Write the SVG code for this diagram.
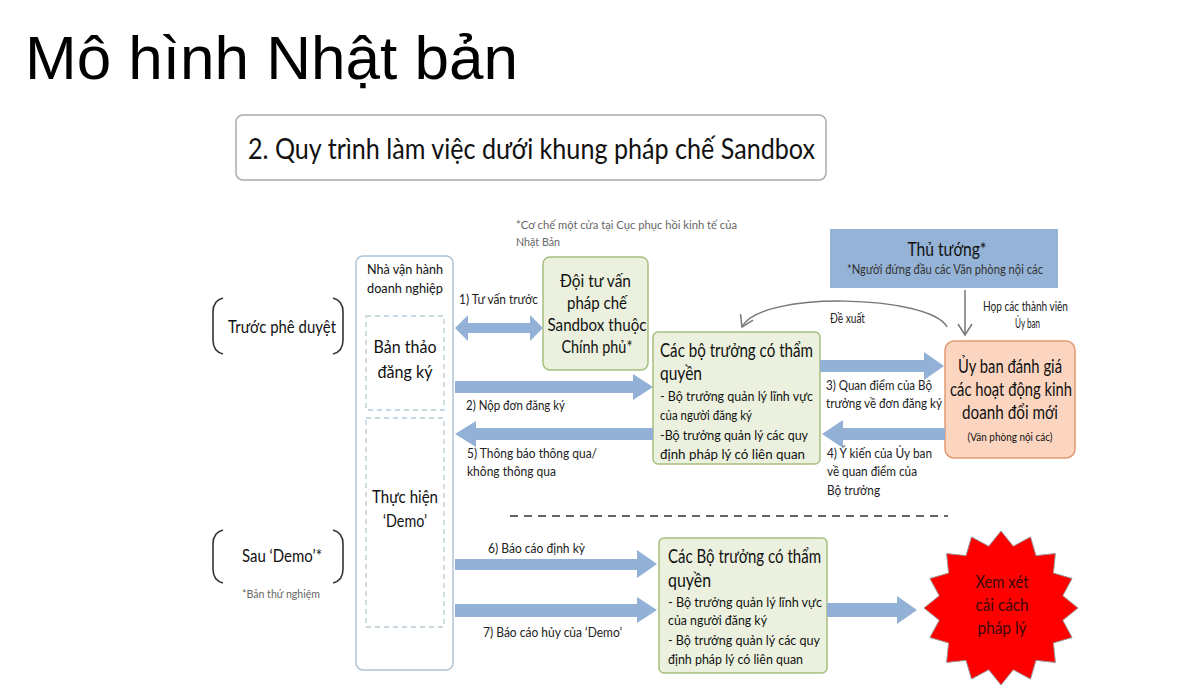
<svg xmlns="http://www.w3.org/2000/svg" width="1200" height="686" viewBox="0 0 1200 686">
<defs>
<style>
.t{font-family:Lato,"Open Sans","Liberation Sans",sans-serif;fill:#111}
.lb{font-family:Lato,"Open Sans","Liberation Sans",sans-serif;fill:#222;font-size:12.5px}
.nt{font-family:Lato,"Open Sans","Liberation Sans",sans-serif;fill:#666;font-size:12px}
.m{text-anchor:middle}
.green{fill:#ebf1de;stroke:#a6bf7d;stroke-width:1.5}
.dash{fill:none;stroke:#b7cbd8;stroke-width:1.3;stroke-dasharray:5 4}
.blk{fill:#93b1d7}
.br{fill:none;stroke:#333;stroke-width:1.6}
</style>
<marker id="v" markerWidth="16" markerHeight="16" refX="12" refY="8" orient="auto" markerUnits="userSpaceOnUse">
<path d="M1,1 L12,8 L1,15" fill="none" stroke="#777" stroke-width="1.5"/>
</marker>
</defs>
<rect width="1200" height="686" fill="#fff"/>
<text x="25" y="79" font-family="'Liberation Sans',Arial,sans-serif" font-size="62" fill="#000">Mô hình Nhật bản</text>

<g id="subtitle">
<rect x="236" y="115" width="590" height="65" rx="7" fill="#fff" stroke="#aaa" stroke-width="1.5"/>
<text class="t" x="248" y="159" font-size="28" textLength="567" lengthAdjust="spacingAndGlyphs">2. Quy trình làm việc dưới khung pháp chế Sandbox</text>
</g>

<g id="phase-before">
<path class="br" d="M223,298 C215,300 213,305 213,312 L213,340 C213,347 215,352 223,354"/>
<path class="br" d="M333,298 C341,300 343,305 343,312 L343,340 C343,347 341,352 333,354"/>
<text class="t m" x="282" y="333" font-size="17" textLength="108" lengthAdjust="spacingAndGlyphs">Trước phê duyệt</text>
</g>
<g id="phase-after">
<path class="br" d="M223,530 C215,532 213,537 213,544 L213,569 C213,576 215,581 223,583"/>
<path class="br" d="M333,530 C341,532 343,537 343,544 L343,569 C343,576 341,581 333,583"/>
<text class="t m" x="282" y="562" font-size="17" textLength="80" lengthAdjust="spacingAndGlyphs">Sau ‘Demo’*</text>
<text class="nt m" x="281" y="598" textLength="78" lengthAdjust="spacingAndGlyphs">*Bản thứ nghiệm</text>
</g>

<g id="operator">
<rect x="356" y="256" width="97" height="414" rx="7" fill="#fff" stroke="#aec3d3" stroke-width="1.5"/>
<text class="t m" x="405" y="274" font-size="13.5" textLength="76" lengthAdjust="spacingAndGlyphs">Nhà vận hành</text>
<text class="t m" x="405" y="293" font-size="13.5" textLength="76" lengthAdjust="spacingAndGlyphs">doanh nghiệp</text>
</g>
<g id="draft">
<rect class="dash" x="366" y="316" width="78" height="94"/>
<text class="t m" x="405" y="353" font-size="17.5" textLength="63" lengthAdjust="spacingAndGlyphs">Bản thảo</text>
<text class="t m" x="405" y="378" font-size="17.5" textLength="55" lengthAdjust="spacingAndGlyphs">đăng ký</text>
</g>
<g id="demo">
<rect class="dash" x="366" y="418" width="78" height="209"/>
<text class="t m" x="405" y="503" font-size="17.5" textLength="66" lengthAdjust="spacingAndGlyphs">Thực hiện</text>
<text class="t m" x="405" y="527" font-size="17.5" textLength="44" lengthAdjust="spacingAndGlyphs">‘Demo’</text>
</g>

<g id="note-onestop">
<text class="nt" x="516" y="229" textLength="221" lengthAdjust="spacingAndGlyphs">*Cơ chế một cửa tại Cục phục hồi kinh tế của</text>
<text class="nt" x="516" y="246" textLength="44" lengthAdjust="spacingAndGlyphs">Nhật Bản</text>
</g>

<g id="advisory">
<rect class="green" x="543" y="257" width="105" height="113" rx="7"/>
<text class="t m" x="595.5" y="287" font-size="18" textLength="71" lengthAdjust="spacingAndGlyphs">Đội tư vấn</text>
<text class="t m" x="597" y="309" font-size="18" textLength="60" lengthAdjust="spacingAndGlyphs">pháp chế</text>
<text class="t m" x="597" y="331" font-size="18" textLength="99" lengthAdjust="spacingAndGlyphs">Sandbox thuộc</text>
<text class="t m" x="597" y="353" font-size="18" textLength="71" lengthAdjust="spacingAndGlyphs">Chính phủ*</text>
</g>

<g id="ministers">
<rect class="green" x="653" y="332" width="167" height="132" rx="5"/>
<text class="t" x="660" y="357" font-size="18.5" textLength="153" lengthAdjust="spacingAndGlyphs">Các bộ trưởng có thẩm</text>
<text class="t" x="660" y="380" font-size="18.5" textLength="42" lengthAdjust="spacingAndGlyphs">quyền</text>
<text class="t" x="660" y="401" font-size="13.5" textLength="153" lengthAdjust="spacingAndGlyphs">- Bộ trưởng quản lý lĩnh vực</text>
<text class="t" x="660" y="420" font-size="13.5" textLength="92" lengthAdjust="spacingAndGlyphs">của người đăng ký</text>
<text class="t" x="660" y="440" font-size="13.5" textLength="148" lengthAdjust="spacingAndGlyphs">-Bộ trưởng quản lý các quy</text>
<text class="t" x="660" y="459" font-size="13.5" textLength="145" lengthAdjust="spacingAndGlyphs">định pháp lý có liên quan</text>
</g>

<g id="pm">
<rect x="830" y="229" width="228" height="59" fill="#95b3d7"/>
<text class="t m" x="947" y="256" font-size="18.5" textLength="79" lengthAdjust="spacingAndGlyphs">Thủ tướng*</text>
<text class="t m" x="945" y="274" font-size="12.5" style="fill:#333" textLength="196" lengthAdjust="spacingAndGlyphs">*Người đứng đầu các Văn phòng nội các</text>
</g>

<g id="committee">
<rect x="945" y="341" width="130" height="117" rx="9" fill="#fcd5c0" stroke="#e39a72" stroke-width="1.5"/>
<text class="t m" x="1010" y="373" font-size="18.5" textLength="104" lengthAdjust="spacingAndGlyphs">Ủy ban đánh giá</text>
<text class="t m" x="1011" y="396" font-size="18.5" textLength="122" lengthAdjust="spacingAndGlyphs">các hoạt động kinh</text>
<text class="t m" x="1010" y="419" font-size="18.5" textLength="96" lengthAdjust="spacingAndGlyphs">doanh đổi mới</text>
<text class="t m" x="1010" y="441" font-size="11.5" textLength="85" lengthAdjust="spacingAndGlyphs">(Văn phòng nội các)</text>
</g>

<g id="ministers-after">
<rect class="green" x="659" y="538" width="168" height="135" rx="5"/>
<text class="t" x="668" y="563" font-size="18.5" textLength="153" lengthAdjust="spacingAndGlyphs">Các Bộ trưởng có thẩm</text>
<text class="t" x="668" y="587" font-size="18.5" textLength="43" lengthAdjust="spacingAndGlyphs">quyền</text>
<text class="t" x="668" y="607" font-size="13.5" textLength="154" lengthAdjust="spacingAndGlyphs">- Bộ trưởng quản lý lĩnh vực</text>
<text class="t" x="668" y="625" font-size="13.5" textLength="99" lengthAdjust="spacingAndGlyphs">của người đăng ký</text>
<text class="t" x="668" y="645" font-size="13.5" textLength="152" lengthAdjust="spacingAndGlyphs">- Bộ trưởng quản lý các quy</text>
<text class="t" x="668" y="664" font-size="13.5" textLength="135" lengthAdjust="spacingAndGlyphs">định pháp lý có liên quan</text>
</g>

<g id="reform">
<polygon points="1001,531 1013.3,546.2 1030.5,536.9 1036,555.6 1055.4,553.6 1053.4,573 1072.1,578.5 1062.8,595.7 1078,608 1062.8,620.3 1072.1,637.5 1053.4,643 1055.4,662.4 1036,660.4 1030.5,679.1 1013.3,669.8 1001,685 988.7,669.8 971.5,679.1 966,660.4 946.6,662.4 948.6,643 929.9,637.5 939.2,620.3 924,608 939.2,595.7 929.9,578.5 948.6,573 946.6,553.6 966,555.6 971.5,536.9 988.7,546.2" fill="#ff0000" stroke="#999" stroke-width="1"/>
<text class="t m" x="1002" y="588" font-size="17.5" style="fill:#3a0a0a" textLength="53" lengthAdjust="spacingAndGlyphs">Xem xét</text>
<text class="t m" x="1002" y="611" font-size="17.5" style="fill:#3a0a0a" textLength="53" lengthAdjust="spacingAndGlyphs">cải cách</text>
<text class="t m" x="1002" y="634" font-size="17.5" style="fill:#3a0a0a" textLength="49" lengthAdjust="spacingAndGlyphs">pháp lý</text>
</g>

<g id="connectors">
<polygon class="blk" points="455,328 468,315 468,323 530,323 530,315 543,328 530,341 530,333 468,333 468,341"/>
<polygon class="blk" points="455,381 633,381 633,374 653,387 633,400 633,393 455,393"/>
<polygon class="blk" points="653,428 476,428 476,421 455,434 476,447 476,440 653,440"/>
<polygon class="blk" points="820,360 924,360 924,352 944,366 924,380 924,372 820,372"/>
<polygon class="blk" points="945,428 843,428 843,420 822,434 843,448 843,440 945,440"/>
<polygon class="blk" points="455,559 637,559 637,550 657,564 637,578 637,570 455,570"/>
<polygon class="blk" points="455,604 637,604 637,597 657,610 637,623 637,617 455,617"/>
<polygon class="blk" points="827,603 897,603 897,596 917,610 897,624 897,617 827,617"/>
<line x1="965" y1="290" x2="965" y2="335" stroke="#777" stroke-width="1.5" marker-end="url(#v)"/>
<path d="M947,327 C930,295 760,290 742,327" fill="none" stroke="#777" stroke-width="1.5" marker-end="url(#v)"/>
<line x1="510" y1="516" x2="948" y2="516" stroke="#333" stroke-width="1.3" stroke-dasharray="8 6"/>
<text class="lb" x="459" y="304" textLength="79" lengthAdjust="spacingAndGlyphs">1) Tư vấn trước</text>
<text class="lb" x="466" y="410" textLength="99" lengthAdjust="spacingAndGlyphs">2) Nộp đơn đăng ký</text>
<text class="lb" x="467" y="458" textLength="130" lengthAdjust="spacingAndGlyphs">5) Thông báo thông qua/</text>
<text class="lb" x="467" y="476" textLength="89" lengthAdjust="spacingAndGlyphs">không thông qua</text>
<text class="lb" x="826" y="390" textLength="106" lengthAdjust="spacingAndGlyphs">3) Quan điểm của Bộ</text>
<text class="lb" x="826" y="408" textLength="116" lengthAdjust="spacingAndGlyphs">trưởng về đơn đăng ký</text>
<text class="lb" x="827" y="458" textLength="105" lengthAdjust="spacingAndGlyphs">4) Ý kiến của Ủy ban</text>
<text class="lb" x="827" y="476" textLength="90" lengthAdjust="spacingAndGlyphs">về quan điểm của</text>
<text class="lb" x="827" y="495" textLength="53" lengthAdjust="spacingAndGlyphs">Bộ trưởng</text>
<text class="lb" x="488" y="553" textLength="97" lengthAdjust="spacingAndGlyphs">6) Báo cáo định kỳ</text>
<text class="lb" x="483" y="637" textLength="139" lengthAdjust="spacingAndGlyphs">7) Báo cáo hủy của ‘Demo’</text>
<text class="lb" x="830" y="323" textLength="35" lengthAdjust="spacingAndGlyphs">Đề xuất</text>
<text class="lb" x="983" y="311" textLength="85" lengthAdjust="spacingAndGlyphs">Họp các thành viên</text>
<text class="lb" x="1015" y="328" textLength="25" lengthAdjust="spacingAndGlyphs">Ủy ban</text>
</g>
</svg>
